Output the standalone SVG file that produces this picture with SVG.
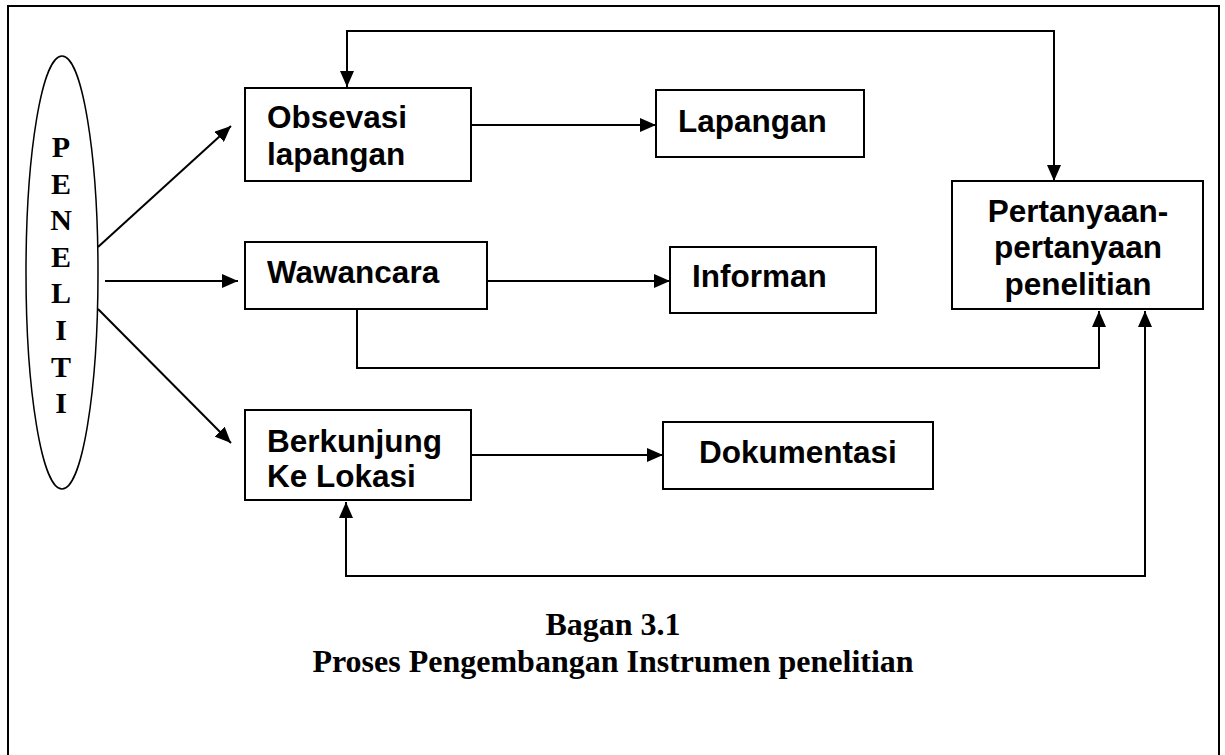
<svg xmlns="http://www.w3.org/2000/svg" width="1225" height="755" viewBox="0 0 1225 755">
<style>
  .box { fill: #fff; stroke: #000; stroke-width: 2; }
  .lbl { font-family: "Liberation Sans", Arial, sans-serif; font-weight: bold; font-size: 31.5px; fill: #000; }
  .ser { font-family: "Liberation Serif", "Times New Roman", serif; font-weight: bold; fill: #000; }
  .con { fill: none; stroke: #000; stroke-width: 2; }
</style>
<defs>
  <marker id="ah" markerUnits="userSpaceOnUse" markerWidth="16" markerHeight="14" refX="16" refY="7" orient="auto-start-reverse">
    <path d="M0,0 L16,7 L0,14 z" fill="#000"/>
  </marker>
</defs>
<rect width="1225" height="755" fill="#fff"/>
<rect x="8" y="6" width="1211" height="800" fill="none" stroke="#000" stroke-width="2"/>

<g id="peneliti">
  <ellipse cx="62" cy="272.5" rx="36" ry="216.5" fill="#fff" stroke="#000" stroke-width="1.5"/>
  <g class="ser" font-size="30" text-anchor="middle">
    <text x="61" y="157">P</text>
    <text x="61" y="193.5">E</text>
    <text x="61" y="230">N</text>
    <text x="61" y="267">E</text>
    <text x="61" y="303">L</text>
    <text x="61" y="340">I</text>
    <text x="61" y="377">T</text>
    <text x="61" y="413">I</text>
  </g>
</g>

<g id="obsevasi">
  <rect class="box" x="245" y="88" width="226" height="93"/>
  <text class="lbl" x="267" y="128">Obsevasi</text>
  <text class="lbl" x="267" y="165">lapangan</text>
</g>
<g id="lapangan">
  <rect class="box" x="656" y="90" width="208" height="67"/>
  <text class="lbl" x="678" y="132">Lapangan</text>
</g>
<g id="wawancara">
  <rect class="box" x="245" y="242" width="242" height="67"/>
  <text class="lbl" x="267" y="283">Wawancara</text>
</g>
<g id="informan">
  <rect class="box" x="670" y="247" width="206" height="66"/>
  <text class="lbl" x="692" y="287">Informan</text>
</g>
<g id="berkunjung">
  <rect class="box" x="245" y="410" width="226" height="90"/>
  <text class="lbl" x="267" y="452">Berkunjung</text>
  <text class="lbl" x="267" y="487">Ke Lokasi</text>
</g>
<g id="dokumentasi">
  <rect class="box" x="663" y="422" width="270" height="67"/>
  <text class="lbl" x="699" y="463">Dokumentasi</text>
</g>
<g id="pertanyaan">
  <rect class="box" x="952" y="181" width="251" height="128"/>
  <text class="lbl" x="1078" y="222" text-anchor="middle">Pertanyaan-</text>
  <text class="lbl" x="1078" y="258" text-anchor="middle">pertanyaan</text>
  <text class="lbl" x="1078" y="295" text-anchor="middle">penelitian</text>
</g>

<g id="connectors">
  <line class="con" x1="98" y1="247" x2="231" y2="126" marker-end="url(#ah)"/>
  <line class="con" x1="105" y1="281" x2="238" y2="281" marker-end="url(#ah)"/>
  <line class="con" x1="98" y1="309" x2="231" y2="443" marker-end="url(#ah)"/>
  <line class="con" x1="471" y1="125" x2="656" y2="125" marker-end="url(#ah)"/>
  <line class="con" x1="487" y1="281" x2="670" y2="281" marker-end="url(#ah)"/>
  <line class="con" x1="471" y1="455" x2="663" y2="455" marker-end="url(#ah)"/>
  <path class="con" d="M347,87 L347,31 L1054,31 L1054,181" marker-start="url(#ah)" marker-end="url(#ah)"/>
  <path class="con" d="M357,309 L357,368 L1099,368 L1099,311" marker-end="url(#ah)"/>
  <path class="con" d="M346,502 L346,576 L1145,576 L1145,311" marker-start="url(#ah)" marker-end="url(#ah)"/>
</g>

<g id="caption" class="ser" font-size="32" text-anchor="middle">
  <text x="613" y="635">Bagan 3.1</text>
  <text x="613" y="672">Proses Pengembangan Instrumen penelitian</text>
</g>
</svg>
